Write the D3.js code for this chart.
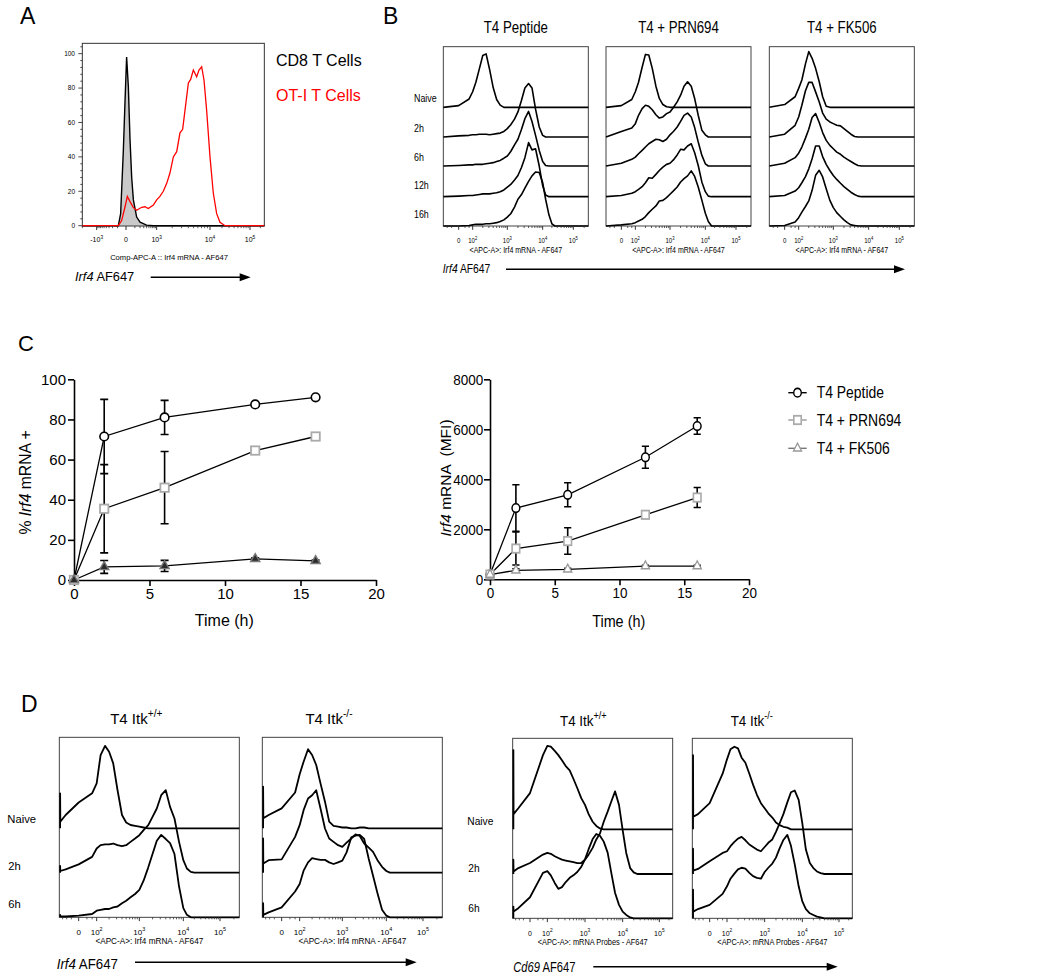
<!DOCTYPE html>
<html><head><meta charset="utf-8">
<script src="https://cdn.jsdelivr.net/npm/d3@7"></script>
<style>
body{margin:0;background:#fff}
svg{display:block}
text{font-family:"Liberation Sans",Arial,Helvetica,sans-serif}
</style>
</head><body>
<script>
// ---------------- DATA ----------------
// Panel A: histogram points [fluorescence, % of max]
const aCD8 = [[-2000,0],[-87,0],[-55,7],[-24,44],[-8,73],[5,98],[20,81],[37,50],[56,28],[78,15],[130,5],[200,2],[400,0.3],[750,0]];
const aOT1 = [[-2000,0],[-87,0],[-43,3],[-8,11],[11,17],[37,14],[78,10.5],[130,9],[240,10.7],[340,11],[470,10],[750,12],[1000,15],[1160,17],[1350,20],[1570,24.6],[1810,30.6],[2100,40],[2430,43],[2800,54],[3140,56],[3470,67],[4010,83],[4420,85],[4950,90.5],[5700,86.6],[6290,90.5],[7040,92.4],[7770,84.7],[8690,67],[10000,40],[12100,19],[14700,7],[17800,2],[23800,0]];
const aLegend = ["CD8 T Cells", "OT-I T Cells"];
const aTicks = [-1000, 0, 1000, 10000, 100000];
const aTickLabels = [["-10","3"],["0"],["10","3"],["10","4"],["10","5"]];
const aYTicks = [0, 20, 40, 60, 80, 100];

// Flow histogram bins (fluorescence) shared by the stacked histograms
const gridB = [-100,0,50,100,125,160,200,250,315,400,500,630,800,1000,1250,1600,2000,2500,3150,4000,5000,6300,8000,10000,12500,16000,20000,25000];
const gridD = [-150,-145,-60,0,50,100,125,160,200,250,315,400,500,630,800,1000,1250,1600,2000,2500,3150,4000,5000,6300,8000,10000,12500,16000,20000,25000,31500,40000];

// Panel B: heights (% of mode) per row: Naive, 2h, 6h, 12h, 16h
const bTitles = ["T4 Peptide", "T4 + PRN694", "T4 + FK506"];
const bRows = ["Naive", "2h", "6h", "12h", "16h"];
const bPeptide = [
  [0,3,15,28,45,70,93,96,68,35,14,4,0],
  [0,2,3,4,4,5,5,5,4,5,6,7,10,15,22,32,45,65,88,96,88,50,18,3,0],
  [0,1,2,2,3,3,3,4,5,6,8,10,14,18,26,38,48,65,85,98,80,55,28,8,1,0],
  [0,1,2,2,3,4,5,5,5,6,7,9,12,17,22,30,38,52,70,97,84,86,55,20,3,0],
  [0,0,1,2,3,3,3,4,4,5,6,8,11,16,22,34,48,56,68,80,90,97,96,78,48,20,4,0]
];
const bPRN694 = [
  [0,3,14,28,45,72,95,94,70,38,16,5,1,0],
  [0,10,16,24,39,51,57,55,49,40,34,36,42,45,53,63,75,91,99,91,69,39,12,4,0],
  [0,5,12,16,22,28,34,40,44,48,47,44,48,56,62,70,80,91,95,88,69,43,19,4,0],
  [0,2,6,9,13,18,25,34,33,40,47,53,58,60,66,75,85,84,91,95,79,56,26,9,1,0],
  [0,2,4,6,9,12,17,24,30,36,45,46,51,57,63,70,79,85,90,99,89,70,46,23,8,0]
];
const bFK506 = [
  [0,5,19,34,49,78,100,88,70,46,19,2,0],
  [0,5,21,36,57,83,98,98,81,63,43,32,27,24,21,20,15,10,5,1,0],
  [0,5,15,23,34,50,66,87,94,78,60,46,37,31,25,21,16,12,8,4,1,0],
  [0,2,10,16,25,36,50,68,91,91,72,58,47,38,31,24,18,13,8,4,1,0],
  [0,1,7,15,25,35,45,64,91,100,88,67,46,33,24,17,11,6,2,1,0]
];

// Panel D: heights per row: Naive, 2h, 6h (first value = pile-up at the lowest bin)
const dTitles = ["T4 Itk", "T4 Itk"];
const dSups = ["+/+", "-/-"];
const dRows = ["Naive", "2h", "6h"];
const dIrf4WT = [
  [42,8,16,31,42,54,88,99,92,78,46,16,7,4,3,2,1,0],
  [8,2,4,10,19,29,33,34,34,35,33,32,33,37,41,45,51,57,67,77,93,99,79,65,37,15,5,1,0],
  [3,1,1,2,4,8,9,10,10,12,13,17,20,24,28,33,44,60,76,92,99,94,89,76,37,11,3,0]
];
const dIrf4KO = [
  [50,12,16,24,43,65,80,95,88,76,54,32,8,3,2,1,1,0,0,1,1,0],
  [41,11,15,16,43,57,75,89,93,99,77,53,41,37,33,31,36,41,46,44,35,30,25,15,7,2,0],
  [17,3,6,12,31,40,56,66,71,70,69,69,66,64,66,68,78,96,98,99,94,70,50,29,9,2,0]
];
const dCd69WT = [
  [94,18,25,43,88,99,98,93,88,82,75,70,60,49,37,29,18,9,4,1,0],
  [17,3,7,13,23,25,24,21,19,17,16,15,14,13,13,17,23,31,41,48,62,74,86,98,82,52,25,7,2,0],
  [14,8,12,25,54,56,51,42,35,37,43,48,51,55,61,70,82,94,100,98,91,78,54,30,16,8,4,1,0]
];
const dCd69KO = [
  [88,15,18,31,66,83,95,98,96,85,79,66,53,41,31,25,19,14,8,5,3,2,0],
  [30,4,6,15,25,27,33,38,42,44,40,35,32,29,27,32,37,41,50,60,71,85,97,99,88,60,29,13,7,3,1,0],
  [34,8,11,16,29,38,47,53,58,60,59,54,50,48,47,55,60,65,72,83,93,99,86,64,38,20,11,6,4,2,1,0]
];
const flowTicks = [0, 100, 1000, 10000, 100000];
const flowTickLabels = [["0"],["10","2"],["10","3"],["10","4"],["10","5"]];

// Panel C
const timeH = [0, 2, 6, 12, 16];
const cSeries = ["T4 Peptide", "T4 + PRN694", "T4 + FK506"];
const pctPeptide = [0, 71.5, 81, 87.5, 91];
const pctPeptideSD = [0, 18.5, 8.5, 0.8, 0.8];
const pctPRN = [0, 35.5, 46, 64.5, 71.5];
const pctPRNSD = [0, 22, 18, 1, 1.8];
const pctFK = [0, 6.5, 7, 10.5, 9.5];
const pctFKSD = [0, 3.2, 2.8, 0.5, 0.5];
const mfiPeptide = [190, 2850, 3380, 4880, 6130];
const mfiPeptideSD = [30, 930, 480, 440, 330];
const mfiPRN = [190, 1230, 1530, 2580, 3270];
const mfiPRNSD = [30, 660, 530, 80, 400];
const mfiFK = [190, 360, 400, 530, 530];
const mfiFKSD = [20, 60, 40, 30, 30];
const timeTicks = [0, 5, 10, 15, 20];
const pctTicks = [0, 20, 40, 60, 80, 100];
const mfiTicks = [0, 2000, 4000, 6000, 8000];

// ---------------- DRAWING ----------------
const svg = d3.select("body").append("svg").attr("width", 1050).attr("height", 977);

function txt(g, x, y, parts, o = {}) {
  const size = o.size || 12, sx = o.sx || 1;
  let tr = `translate(${x},${y})`;
  if (o.rotate) tr += ` rotate(${o.rotate})`;
  if (sx !== 1) tr += ` scale(${sx},1)`;
  const t = g.append("text").attr("transform", tr).attr("font-size", size)
    .attr("text-anchor", o.anchor || "start").attr("fill", o.fill || "#000")
    .style("white-space", "pre");
  const arr = typeof parts === "string" ? [{t: parts}] : parts;
  let shift = 0;
  arr.forEach(p => {
    const ts = t.append("tspan").text(p.t);
    if (p.i) ts.attr("font-style", "italic");
    if (p.sup) {
      const d = -size * 0.45;
      ts.attr("font-size", size * 0.68).attr("dy", d - shift);
      shift = d;
    } else if (shift) {
      ts.attr("dy", -shift); shift = 0;
    }
  });
  return t;
}

function arrow(g, x1, x2, y) {
  g.append("line").attr("x1", x1).attr("x2", x2 - 6).attr("y1", y).attr("y2", y)
    .attr("stroke", "#000").attr("stroke-width", 1.4);
  g.append("path").attr("d", `M${x2},${y}L${x2 - 11},${y - 4}L${x2 - 11},${y + 4}Z`).attr("fill", "#000");
}

// Letters
txt(svg, 20, 24.3, "A", {size: 23});
txt(svg, 383, 24, "B", {size: 23});
txt(svg, 18, 350.7, "C", {size: 22});
txt(svg, 21, 712, "D", {size: 23});

// ---------- Panel A ----------
(function() {
  const g = svg.append("g");
  const left = 82.33, top = 43.33, w = 182, h = 182.67, bottom = top + h;
  const x = d3.scaleSymlog().constant(100)
    .domain([-2000, -1000, 0, 1000, 10000, 100000, 262144])
    .range([left, 96.67, 126, 156.67, 210, 250, left + w]);
  const y = d3.scaleLinear().domain([0, 100]).range([225.7, 53.67]);
  const area = d3.area().x(d => x(d[0])).y0(y(0)).y1(d => y(d[1]));
  const line = d3.line().x(d => x(d[0])).y(d => y(d[1]));
  const cd8 = aCD8.concat([[262144, 0]]);
  const ot1 = aOT1.concat([[262144, 0]]);
  g.append("path").attr("d", area(cd8)).attr("fill", "#c9c9c9");
  g.append("rect").attr("x", left).attr("y", top).attr("width", w).attr("height", h)
    .attr("fill", "none").attr("stroke", "#333").attr("stroke-width", 1);
  g.append("path").attr("d", line(cd8)).attr("fill", "none").attr("stroke", "#000").attr("stroke-width", 1.4);
  g.append("path").attr("d", line(ot1)).attr("fill", "none").attr("stroke", "#f00").attr("stroke-width", 1.3);
  // y ticks
  for (let v = 0; v <= 104; v += 4) {
    const major = v % 20 === 0;
    g.append("line").attr("x1", left - (major ? 4 : 2)).attr("x2", left).attr("y1", y(v)).attr("y2", y(v))
      .attr("stroke", "#333").attr("stroke-width", 0.9);
  }
  aYTicks.forEach(v => txt(g, 75, y(v) + 2.3, String(v), {size: 6.5, anchor: "end"}));
  // x ticks
  const minors = [];
  for (let k = 100; k <= 900; k += 100) { minors.push(k, -k); }
  [1000, 10000].forEach(b => { for (let m = 2; m <= 9; m++) minors.push(m * b); });
  minors.push(-2000, 200000);
  minors.forEach(v => g.append("line").attr("x1", x(v)).attr("x2", x(v)).attr("y1", bottom).attr("y2", bottom + 2.2)
    .attr("stroke", "#333").attr("stroke-width", 0.8));
  aTicks.forEach((v, i) => {
    g.append("line").attr("x1", x(v)).attr("x2", x(v)).attr("y1", bottom).attr("y2", bottom + 4)
      .attr("stroke", "#333").attr("stroke-width", 1);
    const lab = aTickLabels[i];
    txt(g, x(v), 241.7, lab.length > 1 ? [{t: lab[0]}, {t: lab[1], sup: true}] : lab[0], {size: 7, anchor: "middle"});
  });
  txt(g, 169, 260, "Comp-APC-A :: Irf4 mRNA - AF647", {size: 7.6, anchor: "middle"});
  txt(g, 75, 281, [{t: "Irf4", i: true}, {t: " AF647"}], {size: 13.5, sx: 0.95});
  arrow(g, 150.7, 250.7, 277.3);
  txt(g, 276, 65.7, aLegend[0], {size: 16});
  txt(g, 276, 101, aLegend[1], {size: 16, fill: "#f00"});
})();

// ---------- Flow box helper ----------
function flowBox(g, o, curves) {
  const x = d3.scaleSymlog().constant(10).domain(o.domain).range(o.rangeRel.map(r => o.left + r));
  const bottom = o.top + o.h;
  g.append("rect").attr("x", o.left).attr("y", o.top).attr("width", o.w).attr("height", o.h)
    .attr("fill", "none").attr("stroke", "#444").attr("stroke-width", 1);
  const line = d3.line().x(d => x(d[0])).y(d => d[1]);
  const dmax = o.domain[o.domain.length - 1];
  curves.forEach((c, i) => {
    const base = o.bases[i];
    const pts = [[o.grid[0], base]]
      .concat(o.grid.map((v, j) => [v, base - (c[j] || 0) * o.k / 100]))
      .concat([[dmax, base]]);
    g.append("path").attr("d", line(pts)).attr("fill", "none").attr("stroke", "#000")
      .attr("stroke-width", o.lw).attr("stroke-linejoin", "round");
  });
  const minors = [-100, -50, -20, 20, 50];
  [100, 1000, 10000].forEach(b => { for (let m = 2; m <= 9; m++) minors.push(m * b); });
  minors.push(200000);
  minors.filter(v => v > o.domain[0] && v < dmax).forEach(v =>
    g.append("line").attr("x1", x(v)).attr("x2", x(v)).attr("y1", bottom).attr("y2", bottom + 2)
      .attr("stroke", "#333").attr("stroke-width", 0.8));
  flowTicks.forEach((v, i) => {
    g.append("line").attr("x1", x(v)).attr("x2", x(v)).attr("y1", bottom).attr("y2", bottom + 3.8)
      .attr("stroke", "#333").attr("stroke-width", 1);
    const lab = flowTickLabels[i];
    txt(g, x(v), o.tickY, lab.length > 1 ? [{t: lab[0]}, {t: lab[1], sup: true}] : lab[0],
      {size: o.tickSize, anchor: "middle", sx: o.sx});
  });
  txt(g, o.left + o.w / 2, o.axisY, o.axisTitle, {size: o.axisSize, anchor: "middle", sx: o.sx});
}

// ---------- Panel B ----------
(function() {
  const g = svg.append("g");
  const lefts = [443.33, 606, 769.33];
  const data = [bPeptide, bPRN694, bFK506];
  lefts.forEach((l, i) => {
    flowBox(g, {
      left: l, top: 46.67, w: 145, h: 179.33,
      domain: [-100, 0, 100, 1000, 10000, 100000, 262144],
      rangeRel: [0, 15.33, 29.33, 64, 99.33, 130, 145],
      grid: gridB, bases: [107.33, 137, 166, 196.67, 226], k: 55.7, lw: 1.6,
      tickY: 243.3, tickSize: 7.6, axisY: 253.3, axisSize: 8.8, sx: 0.8,
      axisTitle: "<APC-A>: Irf4 mRNA - AF647"
    }, data[i]);
    txt(g, l + 72.5, 32.7, bTitles[i], {size: 16.8, anchor: "middle", sx: 0.79});
  });
  const rowY = [102, 131.7, 160.7, 189.3, 218.3];
  bRows.forEach((r, i) => txt(g, 414, rowY[i], r, {size: 10.7, sx: 0.83}));
  txt(g, 442.7, 273.3, [{t: "Irf4", i: true}, {t: " AF647"}], {size: 12.6, sx: 0.82});
  arrow(g, 506, 905, 269.3);
})();

// ---------- Panel D ----------
(function() {
  const g = svg.append("g");
  const leftSpec = {
    top: 737.33, w: 180, h: 180,
    domain: [-170, 0, 100, 1000, 10000, 100000, 262144],
    rangeRel: [0, 19.33, 37.33, 80, 124, 160.67, 180],
    grid: gridD, bases: [828.33, 872.67, 917.33], k: 83.3, lw: 1.8,
    tickY: 935, tickSize: 8, axisY: 944, axisSize: 8.2, sx: 1,
    axisTitle: "<APC-A>: Irf4 mRNA - AF647"
  };
  const rightSpec = {
    top: 738.33, w: 160, h: 180,
    domain: [-170, 0, 100, 1000, 10000, 100000, 262144],
    rangeRel: [0, 17.33, 34.67, 72.33, 110, 146.67, 160],
    grid: gridD, bases: [829.33, 874, 918.33], k: 84.3, lw: 1.8,
    tickY: 936, tickSize: 8, axisY: 945, axisSize: 8.4, sx: 0.88,
    axisTitle: "<APC-A>: mRNA Probes - AF647"
  };
  flowBox(g, Object.assign({left: 59.33}, leftSpec), dIrf4WT);
  flowBox(g, Object.assign({left: 262.33}, leftSpec), dIrf4KO);
  flowBox(g, Object.assign({left: 512.67}, rightSpec), dCd69WT);
  flowBox(g, Object.assign({left: 692.33}, rightSpec), dCd69KO);
  const titleX = [136.3, 329, 583.3, 751.7];
  titleX.forEach((x, i) => {
    const right = i >= 2;
    txt(g, x, right ? 726 : 724, [{t: dTitles[i % 2]}, {t: dSups[i % 2], sup: true}],
      {size: right ? 15.4 : 15, anchor: "middle", sx: right ? 0.87 : 1});
  });
  const rowYL = [823.3, 870, 908.3], rowYR = [825, 872.3, 911.7];
  dRows.forEach((r, i) => {
    txt(g, i === 0 ? 7.3 : 8.3, rowYL[i], r, {size: 11.6, sx: 0.97});
    txt(g, i === 0 ? 467.3 : 468.3, rowYR[i], r, {size: 11.6, sx: 0.88});
  });
  txt(g, 56.7, 969.3, [{t: "Irf4", i: true}, {t: " AF647"}], {size: 14, sx: 0.95});
  arrow(g, 135, 416.7, 962.3);
  txt(g, 513.3, 972.3, [{t: "Cd69", i: true}, {t: " AF647"}], {size: 14, sx: 0.8});
  arrow(g, 593.3, 837.7, 966.7);
})();

// ---------- Panel C ----------
function scatterPanel(o) {
  const g = svg.append("g");
  const x = d3.scaleLinear().domain([0, 20]).range(o.xr);
  const y = d3.scaleLinear().domain(o.yd).range(o.yr);
  const styleAxis = (ax) => {
    ax.attr("font-size", null).attr("font-family", null);
    ax.select(".domain").attr("stroke", "#000").attr("stroke-width", 1.6);
    ax.selectAll(".tick line").attr("stroke", "#000").attr("stroke-width", 1.6);
    ax.selectAll(".tick text").attr("font-size", o.tickSize).attr("fill", "#000")
      .attr("transform", o.sx !== 1 ? `scale(${o.sx},1)` : null);
  };
  const ax = g.append("g").attr("transform", `translate(0,${o.yr[0]})`)
    .call(d3.axisBottom(x).tickValues(timeTicks).tickFormat(d3.format("d"))
      .tickSize(6).tickSizeOuter(0).tickPadding(2.5));
  styleAxis(ax);
  const ay = g.append("g").attr("transform", `translate(${o.xr[0]},0)`)
    .call(d3.axisLeft(y).tickValues(o.yTicks).tickFormat(d3.format("d"))
      .tickSize(6).tickSizeOuter(0).tickPadding(o.yPad));
  styleAxis(ay);

  const series = o.series;
  const line = d3.line().x((d, i) => x(timeH[i])).y(d => y(d));
  series.forEach(s => g.append("path").attr("d", line(s.v)).attr("fill", "none")
    .attr("stroke", "#000").attr("stroke-width", 1.3));
  series.forEach(s => s.v.forEach((v, i) => {
    const e = s.sd[i];
    if (!e) return;
    const cx = x(timeH[i]);
    g.append("path").attr("d",
      `M${cx},${y(v - e)}V${y(v + e)}M${cx - o.cap},${y(v + e)}H${cx + o.cap}M${cx - o.cap},${y(v - e)}H${cx + o.cap}`)
      .attr("stroke", "#000").attr("stroke-width", 1.6).attr("fill", "none");
  }));
  series.forEach(s => s.v.forEach((v, i) => marker(g, x(timeH[i]), y(v), s.m, o.sx, o.triFill)));

  txt(g, o.titleX, o.titleY, "Time (h)", {size: 16, anchor: "middle", sx: o.sx});
  txt(g, o.ylabX, o.ylabY, o.ylab, {size: o.ylabSize, anchor: "middle", rotate: -90});
  return g;
}

function marker(g, cx, cy, m, sx, triFill) {
  const mg = g.append("g").attr("transform", `translate(${cx},${cy}) scale(${sx},1)`);
  if (m === "circle") {
    mg.append("circle").attr("r", 4.3).attr("fill", "#fff").attr("stroke", "#000").attr("stroke-width", 1.6);
  } else if (m === "square") {
    mg.append("rect").attr("x", -4.2).attr("y", -4.2).attr("width", 8.4).attr("height", 8.4)
      .attr("fill", "#fff").attr("stroke", "#aaa").attr("stroke-width", 1.8);
  } else {
    mg.append("path").attr("d", d3.symbol(d3.symbolTriangle, 36)())
      .attr("fill", triFill ? "#2b2b2b" : "#fff").attr("stroke", triFill ? "#777" : "#999").attr("stroke-width", 1.4);
  }
}

scatterPanel({
  xr: [74, 376], yd: [0, 100], yr: [580, 379.3], yTicks: pctTicks, yPad: 2,
  tickSize: 15, sx: 1, cap: 4, triFill: true,
  series: [
    {v: pctPeptide, sd: pctPeptideSD, m: "circle"},
    {v: pctPRN, sd: pctPRNSD, m: "square"},
    {v: pctFK, sd: pctFKSD, m: "tri"}
  ],
  titleX: 224.3, titleY: 626,
  ylab: [{t: "% "}, {t: "Irf4", i: true}, {t: " mRNA +"}], ylabX: 31, ylabY: 482.5, ylabSize: 15.7
});

scatterPanel({
  xr: [490, 749], yd: [0, 8000], yr: [579.3, 379.3], yTicks: mfiTicks, yPad: 1.5,
  tickSize: 15, sx: 0.9, cap: 3.6, triFill: false,
  series: [
    {v: mfiPeptide, sd: mfiPeptideSD, m: "circle"},
    {v: mfiPRN, sd: mfiPRNSD, m: "square"},
    {v: mfiFK, sd: mfiFKSD, m: "tri"}
  ],
  titleX: 618.7, titleY: 626.7,
  ylab: [{t: "Irf4", i: true}, {t: " mRNA  (MFI)"}], ylabX: 451, ylabY: 478, ylabSize: 15.5
});

// Legend
(function() {
  const g = svg.append("g");
  const ys = [392.7, 420, 448.3];
  const ms = ["circle", "square", "tri"];
  const lc = ["#000", "#999", "#777"];
  cSeries.forEach((s, i) => {
    g.append("line").attr("x1", 788.3).attr("x2", 806.7).attr("y1", ys[i]).attr("y2", ys[i])
      .attr("stroke", lc[i]).attr("stroke-width", 1.4);
    marker(g, 797.5, ys[i], ms[i], 0.88, false);
    txt(g, 816.7, ys[i] + 5.7, s, {size: 16, sx: 0.87});
  });
})();
</script>
</body></html>
